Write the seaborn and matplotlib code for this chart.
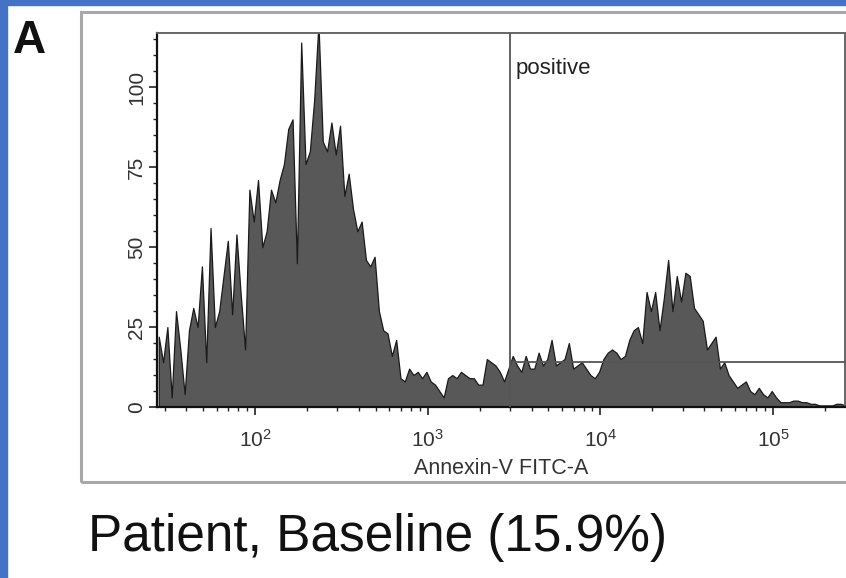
import numpy as np
import pandas as pd
import matplotlib
matplotlib.use("Agg")
import matplotlib.pyplot as plt
import matplotlib.ticker as mticker
from matplotlib.patches import Rectangle
import seaborn as sns

# ---------------- data ----------------
panel_label = "A"
title_text = "Patient, Baseline (15.9%)"
x_label = "Annexin-V FITC-A"
gate_label = "positive"
gate_position = 3000          # Annexin-V threshold
gate_level = 14               # height of gate bar
channel_log_start = 1.43
channel_log_width = 0.025
counts = [
    22, 14, 25, 3, 30, 18, 4, 24, 31, 25,
    44, 14, 56, 25, 30, 41, 52, 29, 54, 35,
    18, 68, 58, 71, 50, 55, 68, 64, 71, 76,
    87, 90, 45, 114, 76, 80, 96, 120, 83, 80,
    89, 79, 88, 66, 73, 62, 55, 58, 46, 44,
    47, 30, 24, 23, 16, 21, 9, 8, 12, 10,
    11, 9, 11, 8, 7, 5, 3, 9, 10, 9,
    11, 10, 9, 9, 7, 7, 15, 14, 13, 11,
    8, 12, 16, 13, 11, 16, 12, 12, 17, 13,
    15, 21, 13, 14, 15, 20, 12, 13, 14, 12,
    10, 9, 11, 15, 17, 18, 17, 15, 16, 21,
    24, 25, 20, 36, 30, 36, 24, 34, 46, 30,
    41, 33, 42, 41, 31, 29, 27, 18, 20, 22,
    12, 14, 10, 8, 6, 7, 8, 5, 4, 6,
    4, 3, 5, 3, 1.5, 1.5, 1.5, 2, 2, 1.5,
    1.5, 1, 1, 0.5, 0.5, 0.5, 0.5, 1, 1, 0.5,
]
y_ticks = [0, 25, 50, 75, 100]
x_ticks = [1e2, 1e3, 1e4, 1e5]
x_tick_labels = ["$10^2$", "$10^3$", "$10^4$", "$10^5$"]
x_limits = (10 ** 1.4326, 10 ** 5.417)
y_limits = (0, 117)

n_ch = len(counts)
centers_log = channel_log_start + channel_log_width * (np.arange(n_ch) + 0.5)
df = pd.DataFrame({"fitc": 10 ** centers_log, "count": counts})

# ---------------- style ----------------
sns.set_theme(style="white")
plt.rcParams["font.family"] = ["Liberation Sans", "DejaVu Sans"]
plt.rcParams["mathtext.default"] = "regular"

W, H = 846, 578
fig = plt.figure(figsize=(W / 100, H / 100), dpi=100)
fig.patch.set_facecolor("white")

def fx(px):
    return px / W

def fy(py):
    return 1 - py / H

# blue page border
blue = "#4472C4"
fig.add_artist(Rectangle((0, 0), fx(7), 1, transform=fig.transFigure,
                         color=blue, zorder=0))
fig.add_artist(Rectangle((0, fy(5)), 1, 5 / H, transform=fig.transFigure,
                         color=blue, zorder=0))
# outer gray frame
fig.add_artist(Rectangle((fx(81), fy(482)), 1.0, (482 - 12) / H,
                         transform=fig.transFigure, fill=False,
                         edgecolor="#a8a8a8", linewidth=2.2, zorder=1))

ax_l, ax_r, ax_t, ax_b = 157, 845, 33, 407
ax = fig.add_axes([fx(ax_l), fy(ax_b), (ax_r - ax_l) / W, (ax_b - ax_t) / H])
ax.set_facecolor("white")

sns.histplot(data=df, x="fitc", weights="count", log_scale=True,
             bins=n_ch, binrange=(channel_log_start,
                                  channel_log_start + channel_log_width * n_ch),
             element="poly", fill=True, color="#585858", alpha=1.0,
             edgecolor="#1a1a1a", linewidth=0.9, ax=ax)

ax.set_xlim(*x_limits)
ax.set_ylim(*y_limits)

# gate
ax.axvline(gate_position, color="#555555", linewidth=1.3, zorder=5)
ax.plot([gate_position, x_limits[1]], [gate_level, gate_level],
        color="#555555", linewidth=1.3, zorder=5, clip_on=False)
ax.text(gate_position * 1.07, 0.905, gate_label, transform=ax.get_xaxis_transform(),
        fontsize=16, color="#222222", va="center", ha="left")

# ticks
ax.set_yticks(y_ticks)
ax.set_yticklabels([str(v) for v in y_ticks])
ax.yaxis.set_minor_locator(mticker.MultipleLocator(5))
ax.set_xticks(x_ticks)
ax.set_xticklabels(x_tick_labels)
ax.xaxis.set_minor_locator(mticker.LogLocator(base=10, subs=np.arange(2, 10)))
ax.xaxis.set_minor_formatter(mticker.NullFormatter())
ax.tick_params(axis="both", which="major", direction="out", length=6, width=1.2,
               color="#222222", labelcolor="#333333", labelsize=15, bottom=True, left=True)
ax.tick_params(axis="both", which="minor", direction="out", length=3, width=1.0,
               color="#222222", bottom=True, left=True)
ax.tick_params(axis="y", which="major", labelrotation=90, pad=2)
ax.tick_params(axis="x", which="major", pad=10)
for lbl in ax.get_yticklabels():
    lbl.set_va("center")

ax.set_ylabel("")
ax.set_xlabel(x_label, fontsize=15.5, color="#333333")
ax.xaxis.set_label_coords(0.5, -(468 - ax_b) / (ax_b - ax_t))
ax.xaxis.label.set_va("center")

for side in ["left", "bottom"]:
    ax.spines[side].set_color("#111111")
    ax.spines[side].set_linewidth(1.6)
for side in ["top", "right"]:
    ax.spines[side].set_color("#666666")
    ax.spines[side].set_linewidth(1.4)

# panel label and title
fig.text(fx(13), fy(53), panel_label, fontsize=33, fontweight="bold",
         color="#111111", ha="left", va="baseline")
fig.text(fx(88), fy(551), title_text, fontsize=37, color="#111111",
         ha="left", va="baseline")

fig.savefig("out.png", dpi=100, facecolor="white")
